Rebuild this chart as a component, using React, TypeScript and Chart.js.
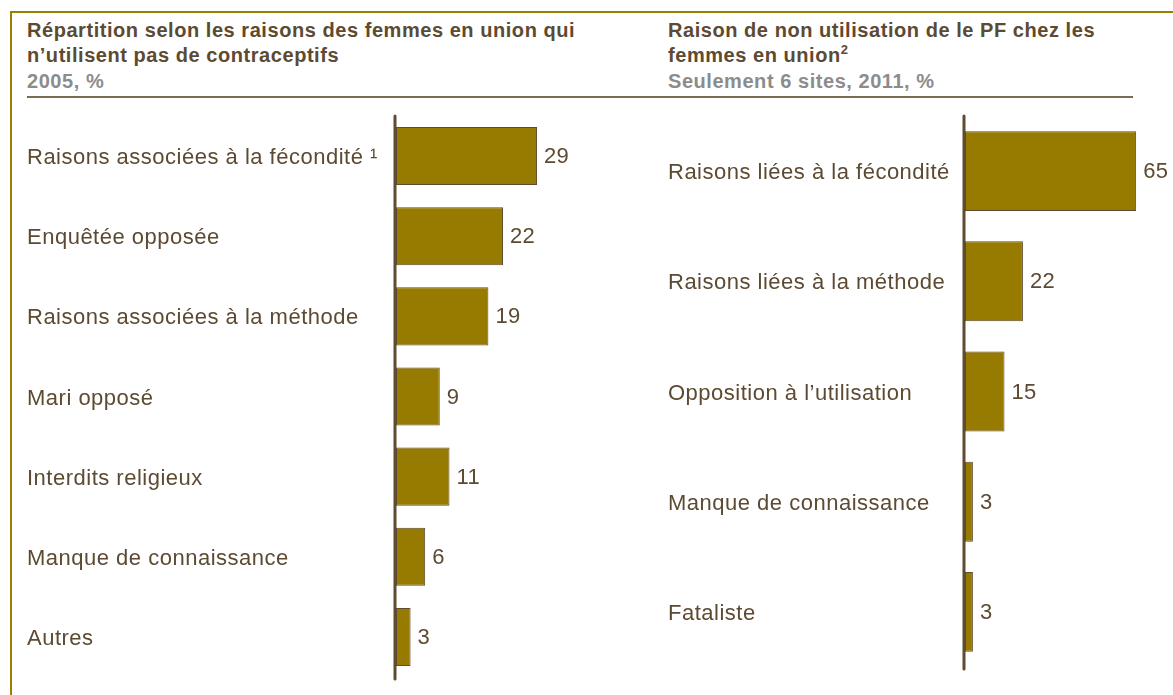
import React, { useEffect, useRef } from "react";
import { Chart, registerables } from "chart.js";

Chart.register(...registerables);

const leftCategories = [
  "Raisons associées à la fécondité ¹",
  "Enquêtée opposée",
  "Raisons associées à la méthode",
  "Mari opposé",
  "Interdits religieux",
  "Manque de connaissance",
  "Autres",
];
const leftValues = [29, 22, 19, 9, 11, 6, 3];

const rightCategories = [
  "Raisons liées à la fécondité",
  "Raisons liées à la méthode",
  "Opposition à l’utilisation",
  "Manque de connaissance",
  "Fataliste",
];
const rightValues = [65, 22, 15, 3, 3];

const FONT = "'Liberation Sans', Arial, Helvetica, sans-serif";
const TEXT = "#5C4A32";
const AXIS = "#5E4B30";
const BAR = "#977A00";
const GOLD = "#9B7F00";

const decoPlugin = {
  id: "deco",
  afterDatasetsDraw(chart: any) {
    const ctx = chart.ctx;
    const area = chart.chartArea;
    const yScale = chart.scales.y;
    ctx.save();
    // axis line
    ctx.strokeStyle = AXIS;
    ctx.lineWidth = 3;
    ctx.lineCap = "round";
    ctx.beginPath();
    ctx.moveTo(area.left - 1, area.top);
    ctx.lineTo(area.left - 1, area.bottom + 2);
    ctx.stroke();
    // category labels
    ctx.fillStyle = TEXT;
    ctx.textBaseline = "middle";
    ctx.textAlign = "left";
    ctx.font = `22px ${FONT}`;
    (ctx as any).letterSpacing = "0.5px";
    const labels = chart.data.labels as string[];
    labels.forEach((lab, i) => {
      ctx.fillText(lab, yScale.left, yScale.getPixelForValue(i) + 2);
    });
    // value labels
    (ctx as any).letterSpacing = "0.3px";
    const meta = chart.getDatasetMeta(0);
    meta.data.forEach((el: any, i: number) => {
      const v = chart.data.datasets[0].data[i];
      ctx.fillText(String(v), el.x + 7, el.y + 1);
    });
    ctx.restore();
  },
};

type PanelProps = {
  categories: string[];
  values: number[];
  left: number;
  top: number;
  width: number;
  height: number;
  yWidth: number;
  xMax: number;
  padTop: number;
  padBottom: number;
};

function Panel(p: PanelProps) {
  const ref = useRef<HTMLCanvasElement>(null);
  useEffect(() => {
    if (!ref.current) return;
    const chart = new Chart(ref.current, {
      type: "bar",
      data: {
        labels: p.categories,
        datasets: [
          {
            data: p.values,
            backgroundColor: BAR,
            borderColor: AXIS,
            borderWidth: 1,
            borderSkipped: false,
            categoryPercentage: 1,
            barPercentage: 0.725,
          },
        ],
      },
      options: {
        indexAxis: "y",
        responsive: false,
        animation: false,
        devicePixelRatio: 1,
        layout: { padding: { top: p.padTop, bottom: p.padBottom, left: 0, right: 0 } },
        plugins: { legend: { display: false }, tooltip: { enabled: false } },
        scales: {
          x: { display: false, min: 0, max: p.xMax },
          y: {
            grid: { display: false },
            border: { display: false },
            afterFit: (scale: any) => {
              scale.width = p.yWidth;
            },
            ticks: { display: false, autoSkip: false },
          },
        },
      },
      plugins: [decoPlugin],
    } as any);
    return () => chart.destroy();
  }, []);
  return (
    <canvas
      ref={ref}
      width={p.width}
      height={p.height}
      style={{ position: "absolute", left: p.left, top: p.top, width: p.width, height: p.height }}
    />
  );
}

const titleStyle: React.CSSProperties = {
  position: "absolute",
  top: 17.5,
  fontFamily: FONT,
  fontWeight: "bold",
  fontSize: 20,
  lineHeight: "25.5px",
  letterSpacing: "0.55px",
  color: TEXT,
  whiteSpace: "nowrap",
};

export default function App() {
  return (
    <div
      style={{
        position: "absolute",
        left: 0,
        top: 0,
        width: 1173,
        height: 695,
        background: "#fff",
        overflow: "hidden",
        fontFamily: FONT,
      }}
    >
      <div
        style={{
          position: "absolute",
          left: 10,
          top: 11,
          right: 0,
          bottom: 0,
          borderTop: `2px solid ${GOLD}`,
          borderLeft: `2px solid ${GOLD}`,
        }}
      />
      <div style={{ ...titleStyle, left: 27 }}>
        <div>Répartition selon les raisons des femmes en union qui</div>
        <div>n’utilisent pas de contraceptifs</div>
        <div style={{ color: "#8C8C8C" }}>2005, %</div>
      </div>
      <div style={{ ...titleStyle, left: 668 }}>
        <div>Raison de non utilisation de le PF chez les</div>
        <div>
          femmes en union<sup style={{ fontSize: 13, lineHeight: 0 }}>2</sup>
        </div>
        <div style={{ color: "#8C8C8C" }}>Seulement 6 sites, 2011, %</div>
      </div>
      <div
        style={{ position: "absolute", left: 27, top: 96, width: 1106, height: 2, background: "#7B6B55" }}
      />
      <Panel
        categories={leftCategories}
        values={leftValues}
        left={27}
        top={100}
        width={600}
        height={590}
        yWidth={369}
        xMax={47.5}
        padTop={16}
        padBottom={13}
      />
      <Panel
        categories={rightCategories}
        values={rightValues}
        left={668}
        top={100}
        width={505}
        height={590}
        yWidth={297}
        xMax={79}
        padTop={16}
        padBottom={23}
      />
    </div>
  );
}
